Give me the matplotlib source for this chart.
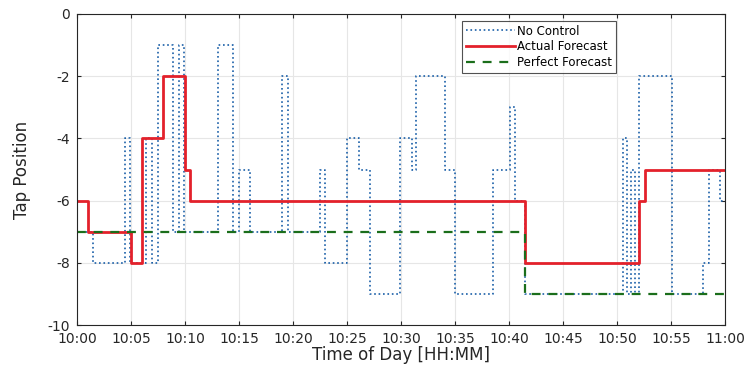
import matplotlib
matplotlib.use("Agg")
import matplotlib.pyplot as plt

plt.rcParams['font.family'] = ['DejaVu Sans']
plt.rcParams['axes.unicode_minus'] = False

# minutes after 10:00
nc_t = [0, 1.45, 4.45, 4.9, 6.4, 6.9, 7.5, 8.9, 9.4, 9.9,
        13.1, 14.4, 15.0, 16.0, 18.95, 19.5, 22.5, 23.0, 25.0, 26.1,
        27.1, 29.9, 31.0, 31.4, 34.1, 35.0, 38.5, 40.1, 40.55, 41.5,
        50.6, 50.9, 51.3, 51.7, 52.0, 55.1, 58.0, 58.5, 59.5, 60]
nc_v = [-7, -8, -4, -8, -4, -8, -1, -7, -1, -7,
        -1, -7, -5, -7, -2, -7, -5, -8, -4, -5,
        -9, -4, -5, -2, -5, -9, -5, -3, -6, -9,
        -4, -9, -5, -9, -2, -9, -8, -5, -6, -6]

af_t = [0, 1.0, 5.0, 6.0, 8.0, 10.0, 10.5, 41.5, 52.0, 52.6, 60]
af_v = [-6, -7, -8, -4, -2, -5, -6, -8, -6, -5, -5]

pf_t = [0, 41.5, 60]
pf_v = [-7, -9, -9]

xtick_pos = [0, 5, 10, 15, 20, 25, 30, 35, 40, 45, 50, 55, 60]
xtick_labels = ['10:00', '10:05', '10:10', '10:15', '10:20', '10:25', '10:30',
                '10:35', '10:40', '10:45', '10:50', '10:55', '11:00']
ytick_pos = [0, -2, -4, -6, -8, -10]

fig = plt.figure(figsize=(7.56, 3.77), dpi=100)
ax = fig.add_axes([77/756, 1-325/377, (725-77)/756, (325-14)/377])

ax.step(nc_t, nc_v, where='post', color='#1A5FA8', linestyle=':', linewidth=1.2, label='No Control')
ax.step(af_t, af_v, where='post', color='#E3212B', linestyle='-', linewidth=2.0, label='Actual Forecast')
ax.step(pf_t, pf_v, where='post', color='#1B6E1B', linestyle='--', linewidth=1.6, dashes=(4, 3.5), label='Perfect Forecast')

ax.set_xlim(0, 60)
ax.set_ylim(-10, 0)
ax.set_xticks(xtick_pos)
ax.set_xticklabels(xtick_labels)
ax.set_yticks(ytick_pos)
ax.set_yticklabels([str(v) for v in ytick_pos])
ax.tick_params(direction='in', top=True, right=True, labelsize=10, length=3, colors='#262626')
ax.tick_params(axis='x', pad=5)
ax.tick_params(axis='y', pad=5)
ax.grid(True, color='#e6e6e6', linewidth=0.8)
for s in ax.spines.values():
    s.set_color('#262626')
    s.set_linewidth(0.8)

ax.set_xlabel('Time of Day [HH:MM]', fontsize=12, color='#262626', labelpad=0)
ax.set_ylabel('Tap Position', fontsize=12, color='#262626', labelpad=12)

leg = ax.legend(loc='upper left', bbox_to_anchor=((462-77)/648, (325-21)/311), fontsize=8.5,
                frameon=True, fancybox=False, edgecolor='#262626', handlelength=4.2,
                handletextpad=0.2, borderpad=0.3, labelspacing=0.25, borderaxespad=0)
leg.get_frame().set_linewidth(0.8)

fig.savefig('out.png', dpi=100)
